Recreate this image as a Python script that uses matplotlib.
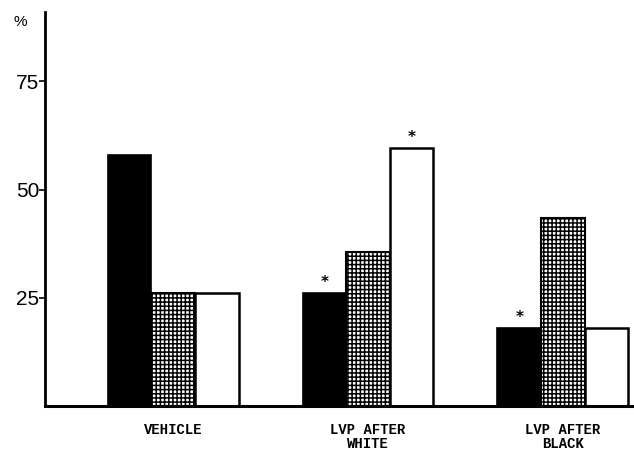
import matplotlib
matplotlib.use("Agg")
import matplotlib.pyplot as plt
import numpy as np

categories = ["VEHICLE", "LVP AFTER\nWHITE", "LVP AFTER\nBLACK"]
black_vals = [58, 26, 18]
grid_vals = [26, 35.5, 43.5]
white_vals = [26, 59.5, 18]
black_sig = [False, True, True]
white_sig = [False, True, False]
yticks = [25, 50, 75]

plt.rcParams['hatch.linewidth'] = 1.1
fig = plt.figure(figsize=(6.34, 4.54), dpi=100)
ax = fig.add_axes([45/634, 48/454, 588/634, 394/454])

x = np.arange(len(categories))
w = 0.224
ax.bar(x - w, black_vals, w, color='black', edgecolor='black', linewidth=1.2)
ax.bar(x, grid_vals, w, color='white', edgecolor='black', hatch='++++', linewidth=1.5)
ax.bar(x + w, white_vals, w, color='white', edgecolor='black', linewidth=1.8)

for i in range(len(categories)):
    if black_sig[i]:
        ax.text(x[i] - w, black_vals[i] + 2.5, '*', ha='center', va='center', fontsize=11, fontweight='bold')
    if white_sig[i]:
        ax.text(x[i] + w, white_vals[i] + 2.5, '*', ha='center', va='center', fontsize=11, fontweight='bold')

ax.set_xlim(-0.658, 2.36)
ax.set_ylim(0, 91)
ax.spines['top'].set_visible(False)
ax.spines['right'].set_visible(False)
ax.spines['left'].set_linewidth(2)
ax.spines['bottom'].set_linewidth(2.2)

ax.set_yticks(yticks)
ax.set_yticklabels([str(t) for t in yticks], fontsize=15, family='Liberation Sans')
ax.tick_params(axis='y', length=4, width=1.2, pad=0)
ax.set_xticks(x)
ax.set_xticklabels(categories, family='Liberation Mono', fontweight='bold', fontsize=10, linespacing=1.05)
ax.tick_params(axis='x', length=0, pad=12)

fig.text(20/634, 1 - 22/454, '%', fontsize=11, family='Liberation Sans', ha='center', va='center')

fig.savefig('out.png', dpi=100)
